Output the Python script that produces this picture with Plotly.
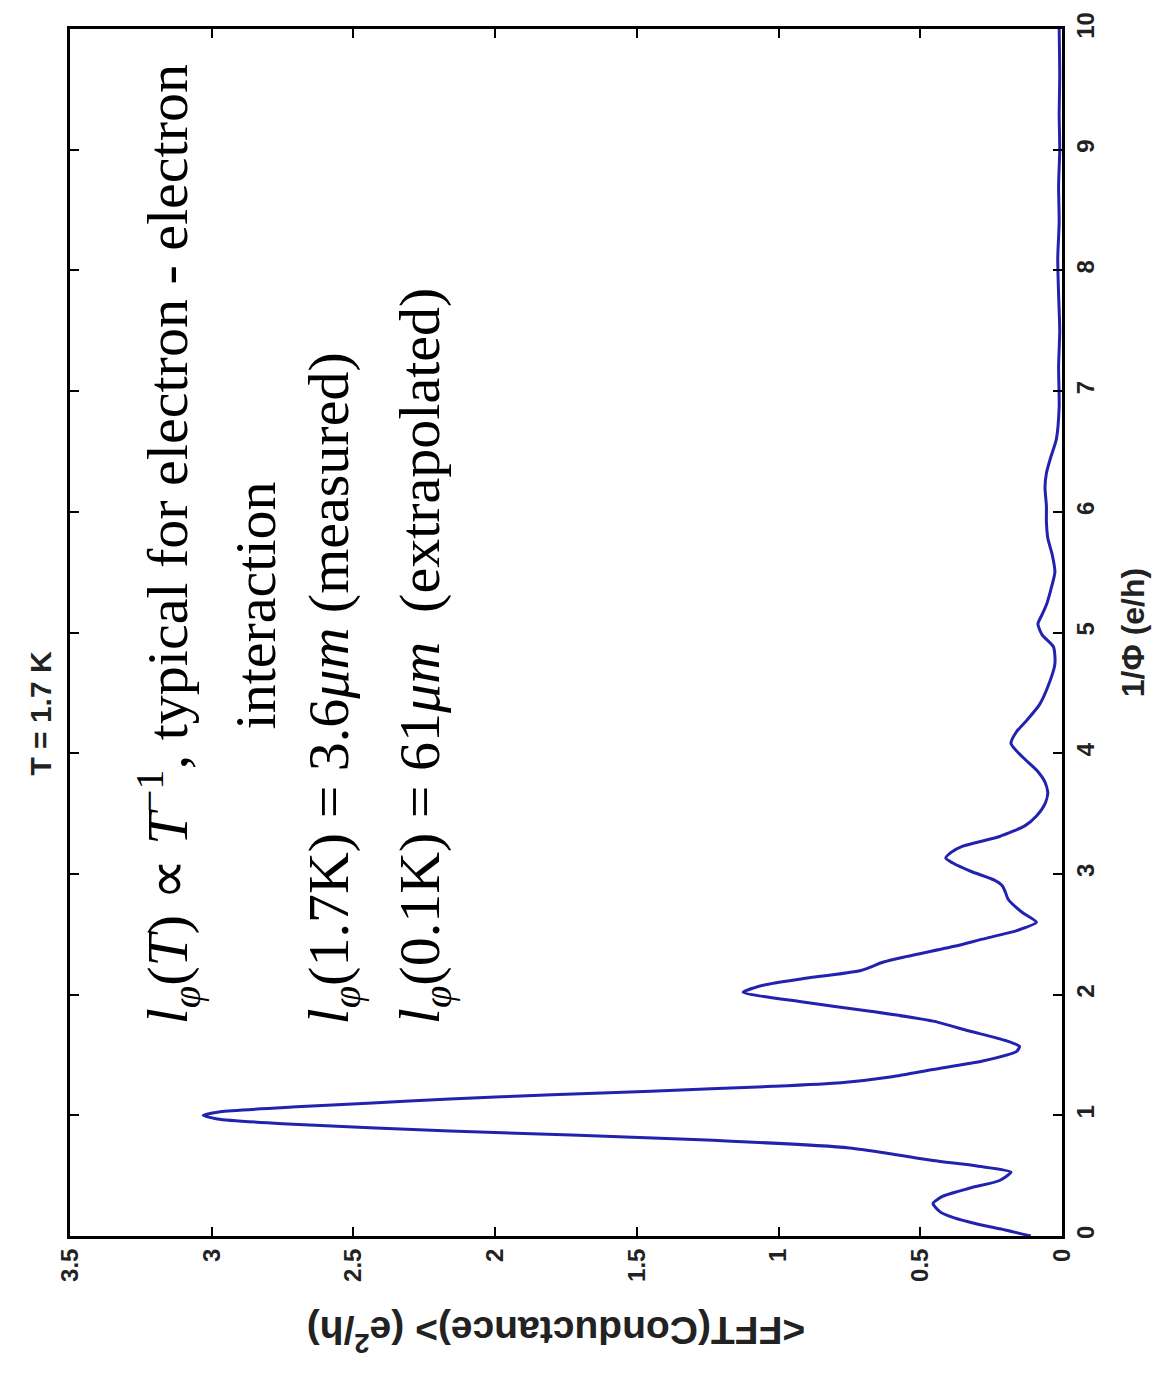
import plotly.graph_objects as go

# 1/Phi (e/h) values and averaged FFT amplitude (e^2/h)
inv_phi = [0, 0.05, 0.1, 0.15, 0.2, 0.27, 0.33, 0.4, 0.46, 0.53, 0.58, 0.625, 0.68, 0.73,
           0.8, 0.87, 0.93, 0.97, 1.0, 1.03, 1.07, 1.1, 1.135, 1.17, 1.2, 1.24, 1.27, 1.32, 1.38, 1.45,
           1.53, 1.57, 1.62, 1.7, 1.78, 1.86, 1.94, 2.02, 2.08, 2.13, 2.2, 2.27, 2.31, 2.4,
           2.46, 2.53, 2.6, 2.68, 2.79, 2.85, 2.9, 2.95, 3.02, 3.09, 3.13, 3.18, 3.23, 3.31,
           3.4, 3.48, 3.58, 3.67, 3.76, 3.86, 3.97, 4.08, 4.18, 4.27, 4.4, 4.55, 4.74, 4.88,
           4.98, 5.07, 5.15, 5.23, 5.35, 5.5, 5.65, 5.78, 5.92, 6.05, 6.2, 6.32, 6.45, 6.6,
           6.87, 7.2, 7.5, 7.8, 8.1, 8.4, 8.7, 9.0, 9.3, 9.6, 10.0]
fft_amp = [0.11, 0.2, 0.3, 0.38, 0.43, 0.455, 0.42, 0.32, 0.22, 0.18, 0.3, 0.455, 0.6, 0.75,
           1.3, 2.16, 2.75, 2.98, 3.03, 2.97, 2.7, 2.45, 2.16, 1.8, 1.45, 1.02, 0.78, 0.6, 0.455, 0.28,
           0.16, 0.15, 0.2, 0.33, 0.455, 0.67, 0.92, 1.125, 1.05, 0.92, 0.71, 0.63, 0.56, 0.38,
           0.28, 0.16, 0.09, 0.14, 0.19, 0.2, 0.21, 0.24, 0.32, 0.385, 0.41, 0.39, 0.35, 0.22,
           0.13, 0.09, 0.06, 0.05, 0.06, 0.09, 0.14, 0.18, 0.16, 0.125, 0.08, 0.05, 0.025, 0.03,
           0.07, 0.085, 0.07, 0.055, 0.04, 0.025, 0.035, 0.05, 0.055, 0.055, 0.06, 0.055, 0.04, 0.02,
           0.01, 0.012, 0.008, 0.012, 0.015, 0.01, 0.012, 0.008, 0.01, 0.008, 0.01]

amp_ticks = [0, 0.5, 1, 1.5, 2, 2.5, 3, 3.5]
amp_labels = ["0", "0.5", "1", "1.5", "2", "2.5", "3", "3.5"]
phi_ticks = list(range(0, 11))
phi_labels = [str(v) for v in phi_ticks]

title_text = "<b>T = 1.7 K</b>"
x_title = "<b>&lt;FFT(Conductance)&gt; (e<sup>2</sup>/h)</b>"
y_title = "<b>1/Φ (e/h)</b>"
notes = [
    "<i>l</i><sub><i>φ</i></sub>(<i>T</i>) ∝ <i>T</i><sup>−1</sup>, typical for electron - electron",
    "interaction",
    "<i>l</i><sub><i>φ</i></sub>(1.7K) = 3.6<i>μm</i> (measured)",
    "<i>l</i><sub><i>φ</i></sub>(0.1K) = 61<i>μm</i>&nbsp;&nbsp;(extrapolated)",
]

fig = go.Figure()
fig.add_trace(go.Scatter(x=fft_amp, y=inv_phi, mode="lines",
                         line=dict(color="#2222b0", width=3, shape="spline", smoothing=0.6),
                         showlegend=False, hoverinfo="skip"))

sans = "Liberation Sans, Arial"
axis_common = dict(showline=True, linecolor="black", linewidth=3, mirror="ticks",
                   ticks="inside", ticklen=9, tickwidth=2, tickcolor="black",
                   showgrid=False, zeroline=False,
                   tickfont=dict(family=sans, size=24, color="#222", weight="bold"))

fig.update_layout(
    width=1166, height=1384,
    margin=dict(l=70, r=104, t=20, b=148),
    paper_bgcolor="white", plot_bgcolor="white",
    xaxis=dict(range=[3.5, 0], tickvals=amp_ticks, ticktext=amp_labels, tickangle=-90, **axis_common),
    yaxis=dict(range=[0, 10], tickvals=phi_ticks, ticktext=phi_labels, tickangle=-90, side="right",
               title=dict(text=y_title, font=dict(family=sans, size=32, color="#222"), standoff=24),
               **axis_common),
)

serif = dict(family="Liberation Serif, Times New Roman", size=58, color="black")
ann = [
    dict(text=title_text, x=-0.03, y=0.433, xref="paper", yref="paper", textangle=-90,
         showarrow=False, xanchor="center", yanchor="middle",
         font=dict(family=sans, size=30, color="#222")),
    dict(text=x_title, x=0.49, y=-0.081, xref="paper", yref="paper", textangle=180,
         showarrow=False, xanchor="center", yanchor="middle",
         font=dict(family=sans, size=39, color="#222")),
    dict(text=notes[0], x=0.0985, y=0.1735, yanchor="bottom"),
    dict(text=notes[1], x=0.187, y=0.522, yanchor="middle"),
    dict(text=notes[2], x=0.265, y=0.1735, yanchor="bottom"),
    dict(text=notes[3], x=0.356, y=0.1735, yanchor="bottom"),
]
for a in ann[2:]:
    a.update(xref="paper", yref="paper", textangle=-90, showarrow=False, xanchor="center", font=serif)
fig.update_layout(annotations=ann)

fig.write_html("out.html")
